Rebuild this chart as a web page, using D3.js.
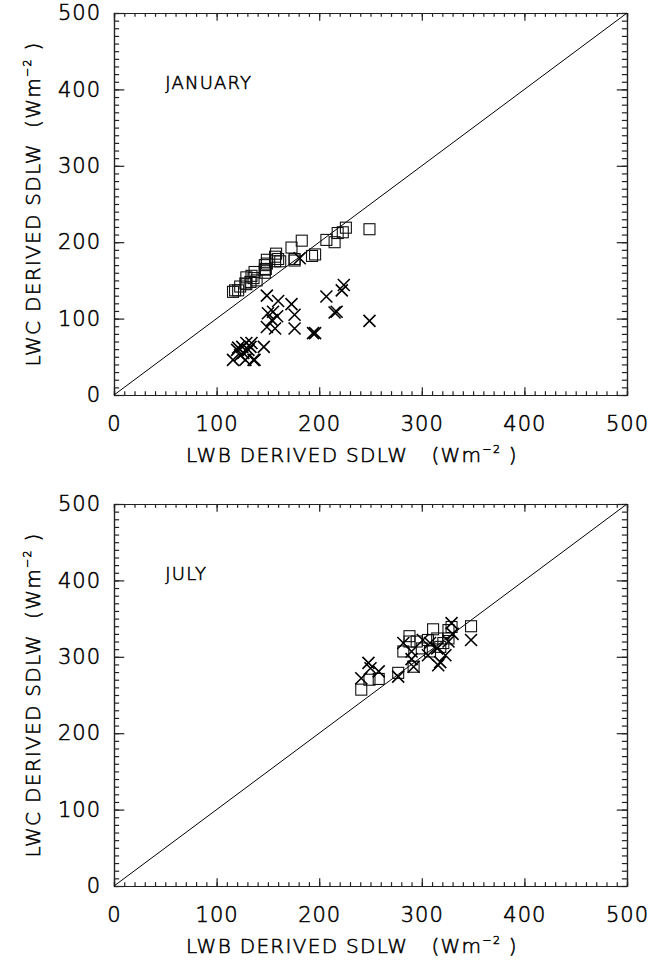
<!DOCTYPE html>
<html>
<head>
<meta charset="utf-8">
<script src="https://cdn.jsdelivr.net/npm/d3@7"></script>
<style>
  body { margin: 0; background: #fff; }
  text { font-family: "DejaVu Sans", Arial, sans-serif; font-weight: 300; fill: #000; stroke: #000; stroke-width: 0.55px; }
</style>
</head>
<body>
<div id="chart-container"></div>
<script>
const fullWidth = 661;
const fullHeight = 960;
const plotLeft = 114;
const plotRight = 627;
const plotHeight = 382;

// axis ticks
const majorTicks = [0, 100, 200, 300, 400, 500];
const minorTicks = d3.range(0, 501, 10);

// January: squares and crosses (LWB derived, LWC derived)
const janSquareX = [116, 118, 121, 123, 128, 129, 133, 136, 139, 134, 129, 137, 147, 147, 148, 147, 149, 149, 157, 157, 158, 160, 162, 176, 173, 176, 183, 193, 196, 207, 215, 218, 223, 226, 249];
const janSquareY = [135, 137, 137, 142, 146, 145, 148, 153, 150, 156, 154, 161, 164, 160, 165, 170, 172, 177, 175, 181, 185, 178, 175, 176, 193, 178, 202, 182, 184, 203, 200, 212, 213, 219, 217];
const janCrossX = [116, 120, 121, 123, 125, 126, 128, 129, 131, 133, 134, 136, 137, 146, 149, 160, 173, 150, 155, 159, 154, 176, 149, 157, 176, 194, 196, 207, 215, 217, 222, 224, 181, 249];
const janCrossY = [46, 59, 62, 52, 63, 55, 46, 68, 59, 63, 68, 46, 46, 63, 130, 123, 119, 107, 109, 103, 98, 105, 89, 87, 87, 81, 81, 129, 108, 109, 137, 144, 179, 97];

// July
const julSquareX = [241, 249, 258, 277, 282, 288, 288, 295, 311, 306, 315, 326, 329, 326, 308, 292, 318, 321, 300, 348];
const julSquareY = [257, 270, 271, 279, 307, 327, 320, 320, 336, 322, 324, 335, 339, 324, 307, 287, 313, 318, 311, 340];
const julCrossX = [348, 329, 248, 250, 258, 241, 277, 282, 290, 292, 290, 306, 316, 318, 323, 308, 315, 326, 301, 330];
const julCrossY = [322, 344, 292, 285, 281, 272, 274, 318, 307, 287, 297, 302, 289, 293, 302, 318, 311, 320, 322, 330];

const svg = d3.select("#chart-container")
  .append("svg")
  .attr("width", fullWidth)
  .attr("height", fullHeight);

// Function to add an axis title with the (Wm-2) unit
const addUnitTitle = (parent, label, transform, anchor) => {
  const t = parent.append("text")
    .attr("transform", transform)
    .attr("text-anchor", anchor)
    .style("font-size", "20px")
    .style("letter-spacing", "1.3px")
    .style("white-space", "pre");
  t.append("tspan").text(label + "  (Wm");
  t.append("tspan").attr("dy", -9).style("font-size", "11px").text("\u22122");
  t.append("tspan").attr("dy", 9).text(" )");
};

// Function to draw one panel
const drawPanel = (top, monthLabel, sqX, sqY, crX, crY) => {
  const x = d3.scaleLinear().domain([0, 500]).range([plotLeft, plotRight]);
  const y = d3.scaleLinear().domain([0, 500]).range([top + plotHeight, top]);
  const xLen = 0.02 * plotHeight;
  const yLen = 0.02 * (plotRight - plotLeft);

  const g = svg.append("g");

  // minor ticks on all four sides
  g.append("g").attr("transform", `translate(0,${y(0)})`)
    .call(d3.axisBottom(x).tickValues(minorTicks).tickSize(-xLen / 2).tickFormat(""));
  g.append("g").attr("transform", `translate(0,${y(500)})`)
    .call(d3.axisTop(x).tickValues(minorTicks).tickSize(-xLen / 2).tickFormat(""));
  g.append("g").attr("transform", `translate(${x(0)},0)`)
    .call(d3.axisLeft(y).tickValues(minorTicks).tickSize(-yLen / 2).tickFormat(""));
  g.append("g").attr("transform", `translate(${x(500)},0)`)
    .call(d3.axisRight(y).tickValues(minorTicks).tickSize(-yLen / 2).tickFormat(""));

  // major ticks and labels
  g.append("g").attr("transform", `translate(0,${y(0)})`)
    .call(d3.axisBottom(x).tickValues(majorTicks).tickSize(-xLen).tickSizeOuter(0).tickPadding(21));
  g.append("g").attr("transform", `translate(0,${y(500)})`)
    .call(d3.axisTop(x).tickValues(majorTicks).tickSize(-xLen).tickSizeOuter(0).tickFormat(""));
  g.append("g").attr("transform", `translate(${x(0)},0)`)
    .call(d3.axisLeft(y).tickValues(majorTicks).tickSize(-yLen).tickSizeOuter(0).tickPadding(13));
  g.append("g").attr("transform", `translate(${x(500)},0)`)
    .call(d3.axisRight(y).tickValues(majorTicks).tickSize(-yLen).tickSizeOuter(0).tickFormat(""));

  g.selectAll(".tick line, .domain").attr("stroke", "#222").attr("stroke-width", 1.2);
  g.selectAll(".tick text")
    .style("font-family", "'DejaVu Sans', Arial, sans-serif")
    .style("font-weight", "300")
    .style("font-size", "21px")
    .style("letter-spacing", "1px")
    .attr("fill", "#000");

  // 1:1 line
  g.append("line")
    .attr("x1", x(0)).attr("y1", y(0))
    .attr("x2", x(500)).attr("y2", y(500))
    .attr("stroke", "#000")
    .attr("stroke-width", 1);

  // month label
  g.append("text")
    .attr("x", x(50))
    .attr("y", y(400))
    .style("font-size", "18px")
    .style("letter-spacing", "1.2px")
    .text(monthLabel);

  // squares
  g.selectAll(".sq")
    .data(sqX)
    .enter().append("rect")
    .attr("x", (d, i) => x(d) - 5.5)
    .attr("y", (d, i) => y(sqY[i]) - 5.5)
    .attr("width", 11)
    .attr("height", 11)
    .attr("fill", "none")
    .attr("stroke", "#111")
    .attr("stroke-width", 1.1);

  // crosses
  g.selectAll(".cr")
    .data(crX)
    .enter().append("path")
    .attr("d", (d, i) => {
      const cx = x(d), cy = y(crY[i]), r = 6;
      return `M${cx - r},${cy - r}L${cx + r},${cy + r}M${cx - r},${cy + r}L${cx + r},${cy - r}`;
    })
    .attr("stroke", "#000")
    .attr("stroke-width", 1.6)
    .attr("fill", "none");

  // axis titles
  addUnitTitle(svg, "LWB DERIVED SDLW ", `translate(186,${y(0) + 67})`, "start");
  addUnitTitle(svg, "LWC DERIVED SDLW", `translate(40,${top + plotHeight / 2}) rotate(-90)`, "middle");
};

drawPanel(13, "JANUARY", janSquareX, janSquareY, janCrossX, janCrossY);
drawPanel(504, "JULY", julSquareX, julSquareY, julCrossX, julCrossY);
</script>
</body>
</html>
